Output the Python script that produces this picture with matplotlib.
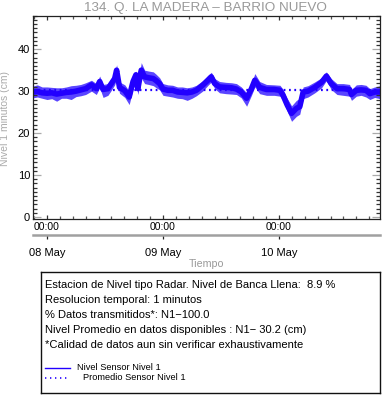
import matplotlib
matplotlib.use("Agg")
import matplotlib.pyplot as plt
import matplotlib.dates as mdates
from matplotlib.ticker import MultipleLocator
from datetime import datetime, timedelta

plt.rcParams['font.family'] = ['Liberation Sans', 'DejaVu Sans']

# horas desde 08 May 00:00
tiempo_h = [-2.9, -2.0, -1.0, 0.0, 1.0, 2.0, 3.0, 4.0, 5.0, 6.0, 7.0, 8.0, 9.2, 10.2,
            10.9, 11.6, 12.6, 13.3, 14.0, 14.4, 15.0, 16.1, 17.0, 17.8, 18.4, 18.8,
            19.5, 20.2, 21.0, 22.0, 22.6, 23.3, 24.0, 25.0, 26.0, 27.0, 28.0, 29.0,
            30.0, 30.9, 32.2, 33.3, 34.0, 34.7, 35.7, 37.0, 38.2, 39.2, 40.2, 41.3,
            42.3, 43.0, 44.0, 45.4, 47.0, 48.2, 48.8, 49.7, 50.6, 51.6, 52.3, 53.0,
            54.0, 55.4, 56.8, 57.8, 58.8, 60.0, 61.3, 62.6, 63.0, 64.0, 65.0, 66.0,
            66.8, 67.8, 68.9]
nivel_medio = [29.8, 29.9, 29.6, 29.5, 29.6, 29.3, 29.5, 29.7, 29.8, 30.0, 30.3, 30.6, 31.5, 30.6,
               32.3, 30.4, 30.6, 31.8, 33.0, 35.0, 30.9, 30.1, 28.6, 32.3, 33.9, 30.6,
               35.0, 33.4, 33.2, 33.0, 32.5, 31.8, 30.5, 30.2, 30.2, 29.8, 29.7, 29.6,
               29.8, 30.2, 31.4, 32.6, 33.4, 31.8, 31.0, 30.9, 30.8, 30.5, 29.8, 28.3,
               30.6, 32.6, 30.9, 30.4, 30.4, 30.2, 29.1, 26.7, 24.7, 25.9, 26.3, 29.8,
               30.0, 30.9, 32.1, 33.6, 31.8, 30.6, 30.6, 30.4, 29.2, 30.2, 30.3, 30.2,
               29.4, 29.8, 29.8]
nivel_max = [31.2, 31.5, 31.0, 31.0, 30.9, 30.8, 30.8, 31.0, 31.3, 31.4, 31.6, 32.0, 32.6, 31.8,
             33.6, 31.6, 31.8, 33.0, 34.5, 36.3, 32.2, 31.5, 30.0, 33.6, 34.8, 32.0,
             36.8, 35.0, 34.8, 34.6, 34.0, 33.2, 31.8, 31.5, 31.4, 31.0, 31.0, 30.8,
             31.0, 31.4, 32.5, 33.8, 34.5, 33.0, 32.3, 32.1, 32.0, 31.8, 31.0, 29.6,
             31.8, 34.2, 32.3, 31.6, 31.5, 31.4, 30.5, 28.3, 26.5, 27.8, 28.3, 31.0,
             31.3, 32.2, 33.2, 34.6, 33.0, 31.8, 31.8, 31.6, 30.4, 31.5, 31.6, 31.4,
             30.6, 31.0, 31.3]
nivel_min = [28.4, 28.6, 28.3, 28.0, 28.2, 27.6, 28.3, 28.3, 28.0, 28.7, 28.9, 29.2, 30.0, 29.2,
             30.8, 28.5, 29.0, 30.2, 31.5, 33.0, 29.5, 28.5, 26.8, 30.5, 32.0, 29.2,
             33.2, 31.8, 31.6, 31.3, 30.8, 30.3, 29.0, 28.8, 28.6, 28.3, 28.2, 27.8,
             28.3, 28.9, 30.0, 31.4, 32.2, 30.6, 29.6, 29.4, 29.3, 29.2, 28.4, 26.4,
             29.0, 31.0, 29.4, 29.0, 29.0, 28.8, 27.8, 25.2, 22.8, 24.0, 24.5, 28.2,
             28.6, 29.6, 30.8, 32.5, 30.4, 29.2, 29.0, 28.8, 27.8, 28.8, 29.0, 28.6,
             28.0, 28.5, 28.2]
promedio = 30.2
inicio_h, fin_h = -2.9, 68.9

base = datetime(2021, 5, 8)
fechas = [base + timedelta(hours=h) for h in tiempo_h]
x0 = base + timedelta(hours=inicio_h)
x1 = base + timedelta(hours=fin_h)

W, H = 382, 404
fig = plt.figure(figsize=(W / 100, H / 100), dpi=100)
ax = fig.add_axes([33 / W, 1 - 219 / H, 347 / W, 203.3 / H])

azul = '#2200ff'
ax.fill_between(fechas, nivel_min, nivel_max, color='#5a45ff', lw=0)
ax.plot(fechas, nivel_medio, color=azul, lw=4, solid_joinstyle='round')
ax.plot([x0, x1], [promedio, promedio], color=azul, lw=1.6, linestyle=(0, (0.8, 1.6)))

ax.set_xlim(x0, x1)
ax.set_ylim(-0.5, 48)
ax.yaxis.set_major_locator(MultipleLocator(10))
ax.yaxis.set_minor_locator(MultipleLocator(1))
ax.xaxis.set_major_locator(mdates.DayLocator())
ax.xaxis.set_minor_locator(MultipleLocator(1 / 9))
ax.xaxis.set_major_formatter(mdates.DateFormatter('%H:%M'))
ax.tick_params(which='both', direction='in', top=True, right=True, labelsize=8, width=0.9)
ax.tick_params(axis='y', which='major', length=5.5, color='#aaaaaa', pad=2)
ax.tick_params(axis='y', which='minor', length=3, color='#333333')
ax.tick_params(axis='x', which='major', length=3, color='#333333', pad=2)
ax.tick_params(axis='x', which='minor', length=2.5, color='#555555')
for lab in ax.get_xticklabels():
    lab.set_fontsize(7.5)
for s in ax.spines.values():
    s.set_linewidth(0.9)
    s.set_color('#222222')

sec = ax.secondary_xaxis(-0.077)
sec.xaxis.set_major_locator(mdates.DayLocator())
sec.xaxis.set_major_formatter(mdates.DateFormatter('%d %b'))
sec.spines['bottom'].set_color('#a0a0a0')
sec.spines['bottom'].set_linewidth(1.8)
sec.tick_params(direction='out', length=3, width=0.9, color='#222222', labelsize=8, pad=6.5)

fig.text(205.5 / W, 1 - 8 / H, '134. Q. LA MADERA – BARRIO NUEVO', color='#999999',
         fontsize=9.7, ha='center', va='center')
fig.text(5 / W, 1 - 118 / H, 'Nivel 1 minutos (cm)', color='#aaaaaa', fontsize=7.5,
         rotation=90, ha='center', va='center')
fig.text(206.5 / W, 1 - 264 / H, 'Tiempo', color='#999999', fontsize=7.7,
         ha='center', va='center')

caja = fig.add_axes([41 / W, 1 - 392.7 / H, 339.3 / W, 120.4 / H])
caja.set_xlim(0, 339.3)
caja.set_ylim(120.4, 0)
caja.set_xticks([])
caja.set_yticks([])
for s in caja.spines.values():
    s.set_linewidth(1)
    s.set_color('#111111')

lineas = ['Estacion de Nivel tipo Radar. Nivel de Banca Llena:  8.9 %',
          'Resolucion temporal: 1 minutos',
          '% Datos transmitidos*: N1\u2212100.0',
          'Nivel Promedio en datos disponibles : N1\u2212 30.2 (cm)',
          '*Calidad de datos aun sin verificar exhaustivamente']
for i, t in enumerate(lineas):
    caja.text(4, 12.7 + 15 * i, t, fontsize=8.0, va='center', ha='left')

caja.plot([4, 29], [95.4, 95.4], color=azul, lw=1)
caja.text(36, 94.7, 'Nivel Sensor Nivel 1', fontsize=6.7, va='center', ha='left')
caja.plot([4, 27], [105.4, 105.4], color=azul, lw=1.2, linestyle=(0, (0.8, 2.2)))
caja.text(41.7, 105, 'Promedio Sensor Nivel 1', fontsize=6.7, va='center', ha='left')

fig.savefig('out.png', dpi=100)
